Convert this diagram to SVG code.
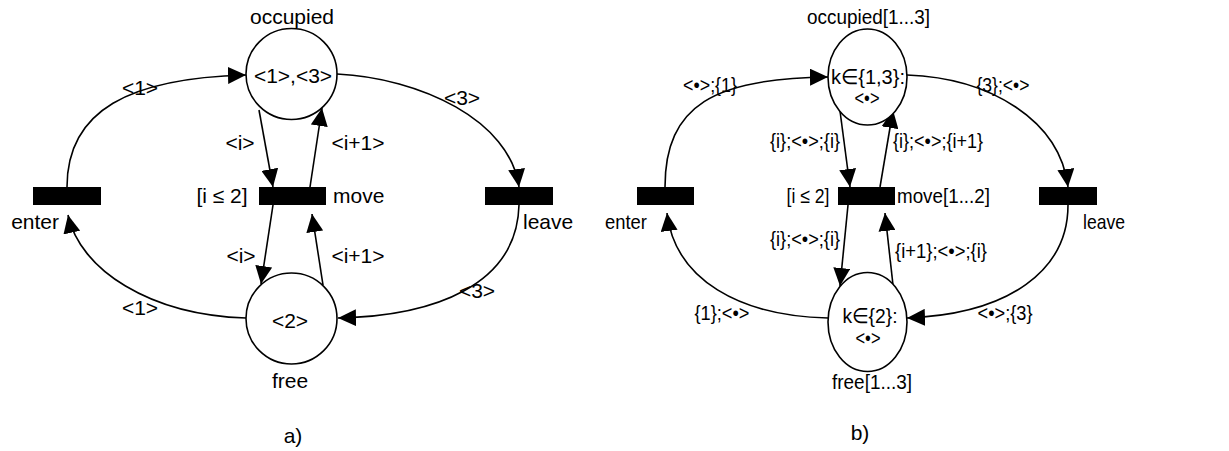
<svg xmlns="http://www.w3.org/2000/svg" width="1229" height="451" viewBox="0 0 1229 451">
<style>
text{font-family:"Liberation Sans",Arial,Helvetica,sans-serif;font-size:21px;fill:#000}
.m{text-anchor:middle}
.e{text-anchor:end}
.place{fill:#fff;stroke:#000;stroke-width:1.6}
.trans{fill:#000;stroke:none}
.arc{fill:none;stroke:#000;stroke-width:1.6;marker-end:url(#ah)}
</style>
<defs>
<marker id="ah" markerUnits="userSpaceOnUse" markerWidth="18" markerHeight="17" refX="18" refY="8.5" orient="auto">
<path d="M0,0 L18,8.5 L0,17 z" fill="#000"/>
</marker>
</defs>
<rect width="1229" height="451" fill="#fff"/>

<!-- Panel a -->
<g id="connectors-a">
<path class="arc" d="M67 187 C67 110,130 78,246 75"/>
<path class="arc" d="M337 74 C420 78,510 120,519 187"/>
<path class="arc" d="M519 205 C517 285,435 316,338 318"/>
<path class="arc" d="M246 318 C150 315,80 270,68 215"/>
<path class="arc" d="M259 110 L273 187"/>
<path class="arc" d="M310 187 L322 108"/>
<path class="arc" d="M273 205 L261 284"/>
<path class="arc" d="M323 285 L312 214"/>
</g>
<g id="a-occupied">
<circle class="place" cx="291.5" cy="74" r="45.5"/>
<text class="m" x="292" y="24">occupied</text>
<text class="m" x="293" y="83">&lt;1&gt;,&lt;3&gt;</text>
</g>
<g id="a-free">
<circle class="place" cx="291.5" cy="318.5" r="45.5"/>
<text class="m" x="290" y="328">&lt;2&gt;</text>
<text class="m" x="290" y="388">free</text>
</g>
<g id="a-enter">
<rect class="trans" x="33" y="187" width="68" height="18"/>
<text class="e" x="59" y="229">enter</text>
</g>
<g id="a-move">
<rect class="trans" x="259" y="187" width="67" height="18"/>
<text x="333" y="203">move</text>
<text class="m" x="222" y="203">[i ≤ 2]</text>
</g>
<g id="a-leave">
<rect class="trans" x="485" y="187" width="68" height="18"/>
<text x="523" y="229">leave</text>
</g>
<g id="labels-a">
<text class="m" x="140" y="95">&lt;1&gt;</text>
<text class="m" x="462" y="105">&lt;3&gt;</text>
<text class="m" x="477" y="298">&lt;3&gt;</text>
<text class="m" x="140" y="315">&lt;1&gt;</text>
<text class="m" x="240" y="150">&lt;i&gt;</text>
<text class="m" x="358" y="150">&lt;i+1&gt;</text>
<text class="m" x="241" y="263">&lt;i&gt;</text>
<text class="m" x="358" y="263">&lt;i+1&gt;</text>
<text class="m" x="293" y="443">a)</text>
</g>

<!-- Panel b -->
<g id="connectors-b">
<path class="arc" d="M665 187 C665 105,715 78,828 77"/>
<path class="arc" d="M907 75 C990 78,1060 120,1068 187"/>
<path class="arc" d="M1068 205 C1068 270,1010 314,907 318"/>
<path class="arc" d="M828 318 C740 316,675 280,667 213"/>
<path class="arc" d="M840 111 L850 187"/>
<path class="arc" d="M880 187 L893 110"/>
<path class="arc" d="M848 205 L840 286"/>
<path class="arc" d="M893 285 L885 213"/>
</g>
<g id="b-occupied">
<ellipse class="place" cx="867.5" cy="77" rx="39.5" ry="48"/>
<text class="m" x="868.5" y="24" textLength="123" lengthAdjust="spacingAndGlyphs">occupied[1...3]</text>
<text class="m" x="868" y="84" textLength="74" lengthAdjust="spacingAndGlyphs">k∈{1,3}:</text>
<text class="m" x="867" y="105" textLength="25" lengthAdjust="spacingAndGlyphs">&lt;•&gt;</text>
</g>
<g id="b-free">
<ellipse class="place" cx="867.5" cy="322" rx="39.5" ry="49.5"/>
<text class="m" x="870" y="323" textLength="55" lengthAdjust="spacingAndGlyphs">k∈{2}:</text>
<text class="m" x="868" y="345" textLength="25" lengthAdjust="spacingAndGlyphs">&lt;•&gt;</text>
<text class="m" x="872" y="389" textLength="80" lengthAdjust="spacingAndGlyphs">free[1...3]</text>
</g>
<g id="b-enter">
<rect class="trans" x="637" y="187" width="57" height="18"/>
<text class="e" x="647" y="229" textLength="42" lengthAdjust="spacingAndGlyphs">enter</text>
</g>
<g id="b-move">
<rect class="trans" x="838" y="187" width="57" height="18"/>
<text x="897" y="203" textLength="93" lengthAdjust="spacingAndGlyphs">move[1...2]</text>
<text class="m" x="808" y="203" textLength="43" lengthAdjust="spacingAndGlyphs">[i ≤ 2]</text>
</g>
<g id="b-leave">
<rect class="trans" x="1039" y="187" width="58" height="18"/>
<text x="1083" y="229" textLength="42" lengthAdjust="spacingAndGlyphs">leave</text>
</g>
<g id="labels-b">
<text class="m" x="710" y="92" textLength="54" lengthAdjust="spacingAndGlyphs">&lt;•&gt;;{1}</text>
<text class="m" x="1003" y="92" textLength="53" lengthAdjust="spacingAndGlyphs">{3};&lt;•&gt;</text>
<text class="m" x="805" y="148" textLength="70" lengthAdjust="spacingAndGlyphs">{i};&lt;•&gt;;{i}</text>
<text class="m" x="938" y="148" textLength="90" lengthAdjust="spacingAndGlyphs">{i};&lt;•&gt;;{i+1}</text>
<text class="m" x="805" y="246" textLength="70" lengthAdjust="spacingAndGlyphs">{i};&lt;•&gt;;{i}</text>
<text class="m" x="941" y="258" textLength="92" lengthAdjust="spacingAndGlyphs">{i+1};&lt;•&gt;;{i}</text>
<text class="m" x="722" y="320" textLength="55" lengthAdjust="spacingAndGlyphs">{1};&lt;•&gt;</text>
<text class="m" x="1005" y="320" textLength="55" lengthAdjust="spacingAndGlyphs">&lt;•&gt;;{3}</text>
<text class="m" x="860" y="440">b)</text>
</g>
</svg>
